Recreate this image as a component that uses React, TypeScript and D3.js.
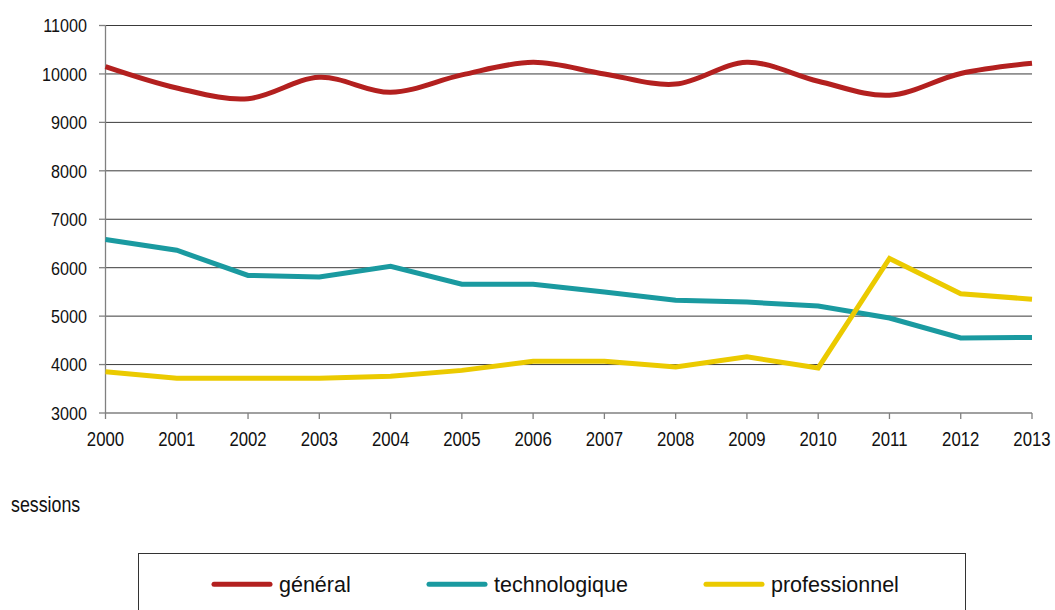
import React from "react";
import * as d3 from "d3";

const years = [2000, 2001, 2002, 2003, 2004, 2005, 2006, 2007, 2008, 2009, 2010, 2011, 2012, 2013];
const general = [10150, 9710, 9490, 9930, 9620, 9980, 10240, 10000, 9790, 10240, 9850, 9560, 10010, 10220];
const technologique = [6580, 6360, 5840, 5810, 6030, 5660, 5660, 5500, 5330, 5290, 5210, 4960, 4550, 4560];
const professionnel = [3850, 3720, 3720, 3720, 3760, 3880, 4070, 4070, 3950, 4160, 3930, 6190, 5460, 5350];
const yTicks = [3000, 4000, 5000, 6000, 7000, 8000, 9000, 10000, 11000];
const seriesNames = ["général", "technologique", "professionnel"];
const seriesColors = ["#b3201f", "#1a9aa0", "#ebca00"];
const unitLabel = "sessions";

const W = 1055;
const H = 610;
const REG = "'Liberation Sans', Arial, sans-serif";

export default function App() {
  const x = d3.scaleLinear().domain([2000, 2013]).range([105.5, 1032]);
  const y = d3.scaleLinear().domain([3000, 11000]).range([413, 25.5]);

  const smooth = d3
    .line<number>()
    .x((_, i) => x(years[i]))
    .y((v) => y(v))
    .curve(d3.curveCardinal.tension(0));
  const straight = d3
    .line<number>()
    .x((_, i) => x(years[i]))
    .y((v) => y(v));

  const legendX = [214, 429, 706];

  return (
    <svg
      width={W}
      height={H}
      style={{ position: "absolute", left: 0, top: 0, background: "#fff" }}
    >
      {yTicks.slice(1).map((t) => (
        <line key={t} x1={105.5} x2={1032} y1={y(t)} y2={y(t)} stroke="#3a3a3a" strokeWidth={1} />
      ))}
      <line x1={105.5} x2={105.5} y1={y(11000)} y2={y(3000)} stroke="#808080" strokeWidth={1.3} />
      <line x1={105.5} x2={1032} y1={y(3000)} y2={y(3000)} stroke="#808080" strokeWidth={1.5} />
      {yTicks.map((t) => (
        <g key={"yt" + t}>
          <line x1={99} x2={105.5} y1={y(t)} y2={y(t)} stroke="#808080" strokeWidth={1.3} />
          <text
            transform={`translate(87,${y(t)}) scale(0.85,1)`}
            dy="0.36em"
            textAnchor="end"
            fontFamily={REG}
            fontSize={19}
            fill="#111"
          >
            {t}
          </text>
        </g>
      ))}
      {years.map((yr) => (
        <g key={"xt" + yr}>
          <line x1={x(yr)} x2={x(yr)} y1={413} y2={419} stroke="#808080" strokeWidth={1.3} />
          <text
            transform={`translate(${x(yr)},445.5) scale(0.86,1)`}
            textAnchor="middle"
            fontFamily={REG}
            fontSize={19.5}
            fill="#111"
          >
            {yr}
          </text>
        </g>
      ))}
      <path d={smooth(general) || ""} fill="none" stroke={seriesColors[0]} strokeWidth={5} />
      <path d={straight(technologique) || ""} fill="none" stroke={seriesColors[1]} strokeWidth={5} />
      <path d={straight(professionnel) || ""} fill="none" stroke={seriesColors[2]} strokeWidth={5} />

      <text transform="translate(11,511.5) scale(0.81,1)" fontFamily={REG} fontSize={22} fill="#111">
        {unitLabel}
      </text>

      <rect x={138.5} y={553.5} width={827} height={80} fill="none" stroke="#333" strokeWidth={1} />
      {seriesNames.map((n, i) => (
        <g key={n}>
          <line
            x1={legendX[i]}
            x2={legendX[i] + 56}
            y1={584.3}
            y2={584.3}
            stroke={seriesColors[i]}
            strokeWidth={5}
            strokeLinecap="round"
          />
          <text x={legendX[i] + 65} y={592.3} fontFamily={REG} fontSize={21.5} fill="#111">
            {n}
          </text>
        </g>
      ))}
    </svg>
  );
}
